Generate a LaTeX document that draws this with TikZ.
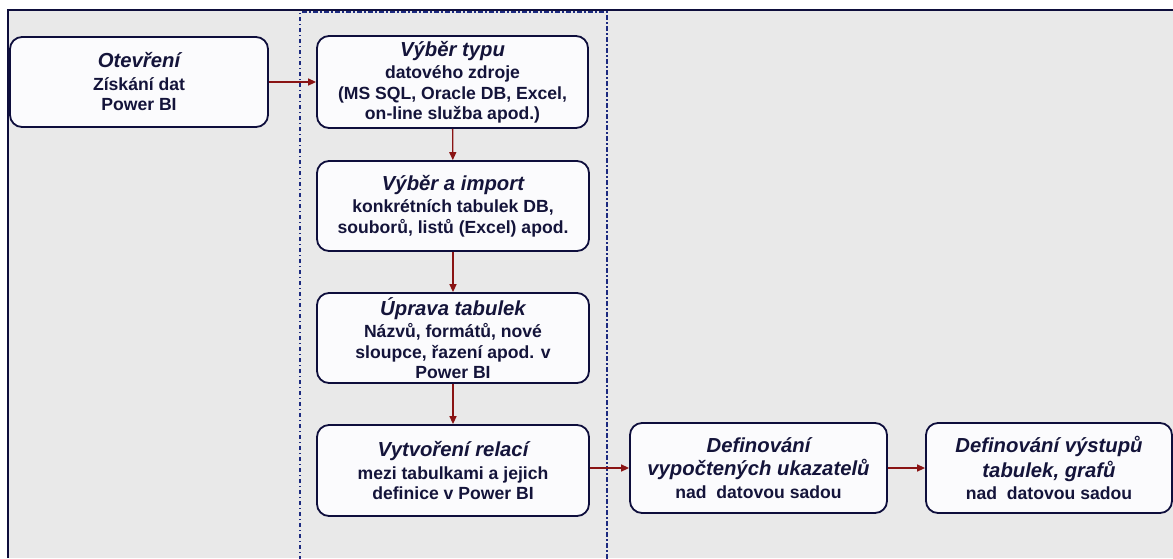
\documentclass[tikz,border=0pt]{standalone}
\usepackage{fontspec}
\setmainfont{Liberation Sans}
\usetikzlibrary{arrows.meta}
\definecolor{bg}{HTML}{E9E9E9}
\definecolor{navy}{HTML}{0E0E3C}
\definecolor{dashnavy}{HTML}{1C2A80}
\definecolor{txt}{HTML}{14143A}
\definecolor{arr}{HTML}{8A1414}
\definecolor{boxfill}{HTML}{FBFBFD}
\newcommand\ttl[1]{{\fontsize{20.3}{20.5}\selectfont\itshape #1}}
\tikzset{
  stepbox/.style={draw=navy, line width=1.8pt, fill=boxfill, rounded corners=12pt,
    inner sep=0pt, align=center, text=txt,
    font=\fontsize{17.6}{20.5}\selectfont\bfseries},
  flow/.style={draw=arr, line width=1.4pt, -{Triangle[length=8pt,width=7pt]}},
  frameline/.style={draw=navy, line width=2.2pt},
  groupline/.style={draw=dashnavy, line width=1.9pt, dash pattern=on 4.5pt off 2.5pt on 1.5pt off 2.5pt}
}
\begin{document}
\begin{tikzpicture}[x=1pt,y=-1pt]
\useasboundingbox (0,0) rectangle (1173,558);
\fill[white] (0,0) rectangle (1173,558);
\fill[bg] (8,10) rectangle (1173,558);
\draw[frameline] (8,558) -- (8,10) -- (1173,10);
\draw[groupline] (300,560) -- (300,12) -- (607,12) -- (607,560);

\node[stepbox, minimum width=258pt, minimum height=90pt] (b1) at (139,82)
  {\ttl{Otevření}\\[2pt]Získání dat\\Power BI};
\node[stepbox, minimum width=271pt, minimum height=92pt] (b2) at (452.5,82)
  {\ttl{Výběr typu}\\[2pt]datového zdroje\\(MS SQL, Oracle DB, Excel,\\on-line služba apod.)};
\node[stepbox, minimum width=272pt, minimum height=90pt] (b3) at (453,206)
  {\ttl{Výběr a import}\\[2pt]konkrétních tabulek DB,\\souborů, listů (Excel) apod.};
\node[stepbox, minimum width=272pt, minimum height=90pt] (b4) at (453,338)
  {\ttl{Úprava tabulek}\\[2pt]Názvů, formátů,\ nové\\sloupce, řazení apod. v\\Power BI};
\node[stepbox, minimum width=272pt, minimum height=91pt] (b5) at (453,470.5)
  {\ttl{Vytvoření relací}\\[2pt]mezi tabulkami\ a jejich\\definice v Power BI};
\node[stepbox, minimum width=257pt, minimum height=90pt] (b6) at (758.5,468)
  {\ttl{Definování}\\[3pt]\ttl{vypočtených ukazatelů}\\[2pt]nad\ \ datovou sadou};
\node[stepbox, minimum width=246pt, minimum height=90pt] (b7) at (1049,468)
  {\ttl{Definování výstupů}\\[3pt]\ttl{tabulek, grafů}\\[2pt]nad\ \ datovou sadou};

\draw[flow] (b1) -- (b2);
\draw[flow] (b2) -- (b3);
\draw[flow] (b3) -- (b4);
\draw[flow] (b4) -- (b5);
\draw[flow] (b5.east |- b6.west) -- (b6.west);
\draw[flow] (b6) -- (b7);
\end{tikzpicture}
\end{document}
